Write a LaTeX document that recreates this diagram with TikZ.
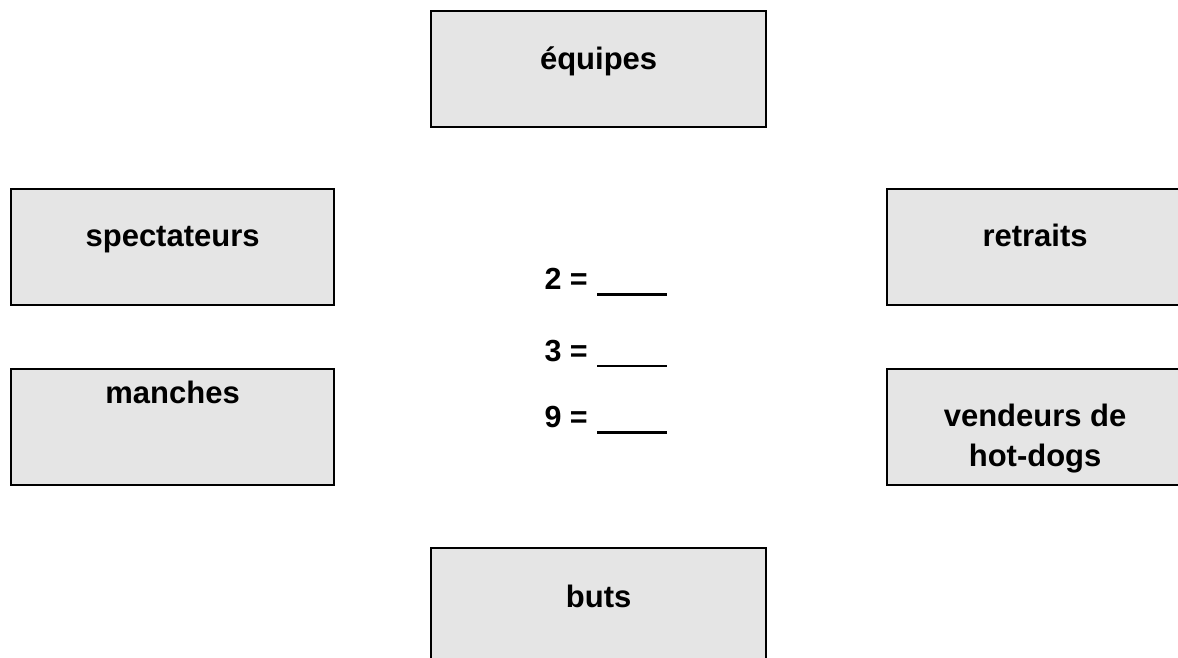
\documentclass[tikz,border=0pt]{standalone}
\usepackage{fontspec}
\setmainfont{Liberation Sans}
\usetikzlibrary{calc}
\definecolor{boxfill}{HTML}{E5E5E5}
\tikzset{
  catbox/.style={draw=black, fill=boxfill, line width=2.2pt, rectangle, inner sep=0pt, anchor=north west},
  cattext/.style={font=\fontsize{31}{36}\selectfont\bfseries, anchor=base, inner sep=0pt, align=center},
  eqtext/.style={font=\fontsize{30.5}{36}\selectfont\bfseries, anchor=base east, inner sep=0pt},
  blank/.style={line width=#1, black}
}
\begin{document}
\begin{tikzpicture}[x=1pt,y=-1pt]
\useasboundingbox (0,0) rectangle (1178,658);
\clip (0,0) rectangle (1178,658);
% boxes
\node[catbox, minimum width=335pt, minimum height=116pt] (eq) at (430,10) {};
\node[catbox, minimum width=323pt, minimum height=116pt] (sp) at (10,188) {};
\node[catbox, minimum width=310pt, minimum height=116pt] (re) at (886,188) {};
\node[catbox, minimum width=323pt, minimum height=116pt] (ma) at (10,368) {};
\node[catbox, minimum width=310pt, minimum height=116pt] (ve) at (886,368) {};
\node[catbox, minimum width=335pt, minimum height=130pt] (bu) at (430,547) {};
% texts
\node[cattext] (teq) at ($(eq.north)+(0,60)$) {équipes};
\node[cattext] (tsp) at ($(sp.north)+(0,58)$) {spectateurs};
\node[cattext] (tre) at ($(re.north)+(-7,58)$) {retraits};
\node[cattext] (tma) at ($(ma.north)+(0,35)$) {manches};
\node[cattext] (tve) at ($(ve.north)+(-7,58)$) {vendeurs de};
\node[cattext] (tve2) at ($(ve.north)+(-7,98)$) {hot-dogs};
\node[cattext] (tbu) at ($(bu.north)+(0,60)$) {buts};
% equations
\node[eqtext] (e2) at (588,289) {2 =};
\node[eqtext] (e3) at (588,361) {3 =};
\node[eqtext] (e9) at (588,427) {9 =};
\coordinate (a2) at (597,294.5); \coordinate (b2) at (667,294.5);
\coordinate (a3) at (597,366); \coordinate (b3) at (667,366);
\coordinate (a9) at (597,432.5); \coordinate (b9) at (667,432.5);
\draw[blank=3.5pt] (a2) -- (b2);
\draw[blank=1.8pt] (a3) -- (b3);
\draw[blank=3.8pt] (a9) -- (b9);
\end{tikzpicture}
\end{document}
